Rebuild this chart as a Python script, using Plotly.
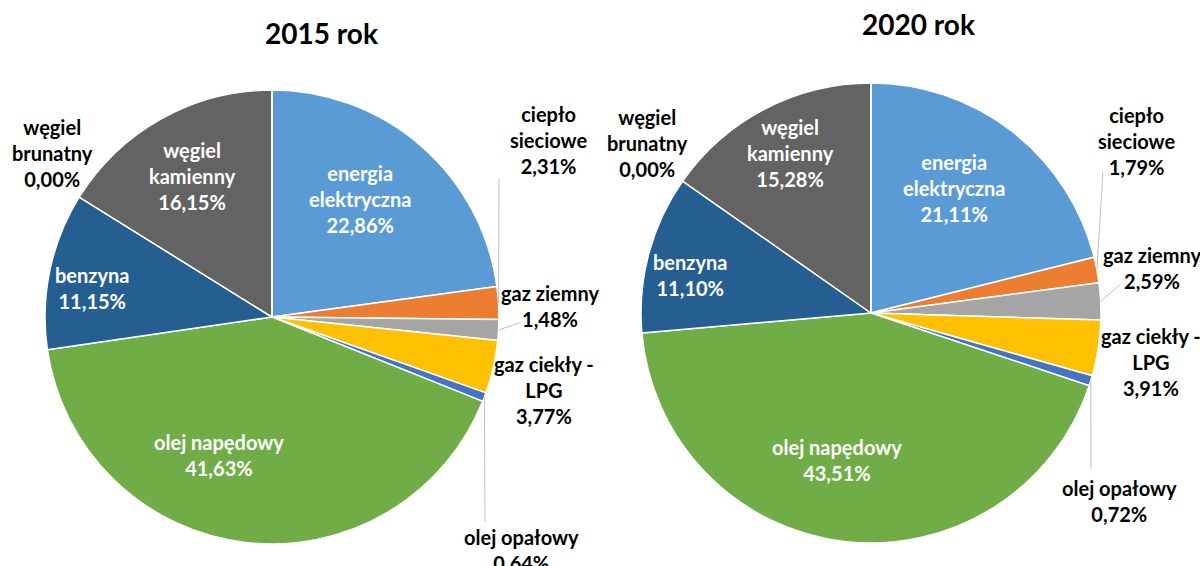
import math

import plotly.graph_objects as go

categories = [
    "energia elektryczna",
    "ciepło sieciowe",
    "gaz ziemny",
    "gaz ciekły - LPG",
    "olej opałowy",
    "olej napędowy",
    "benzyna",
    "węgiel kamienny",
    "węgiel brunatny",
]
share_2015 = [22.86, 2.31, 1.48, 3.77, 0.64, 41.63, 11.15, 16.15, 0.00]
share_2020 = [21.11, 1.79, 2.59, 3.91, 0.72, 43.51, 11.10, 15.28, 0.00]
titles = ["2015 rok", "2020 rok"]

# how each category name is wrapped on the chart
wrapped = {
    "energia elektryczna": "energia<br>elektryczna",
    "ciepło sieciowe": "ciepło<br>sieciowe",
    "gaz ciekły - LPG": "gaz ciekły -<br>LPG",
    "węgiel kamienny": "węgiel<br>kamienny",
    "węgiel brunatny": "węgiel<br>brunatny",
}

colors = ["#5B9BD5", "#ED7D31", "#A5A5A5", "#FFC000", "#4472C4",
          "#70AD47", "#255E91", "#636363", "#997300"]
inside = {"energia elektryczna", "olej napędowy", "benzyna", "węgiel kamienny"}

W, H = 1200, 566
FONT = "Lato, 'Open Sans', sans-serif"
LABEL_SIZE = 20
LINE_COLOR = "#BFBFBF"

# pie placement in pixels: centre x, centre y, radius
pies = [(272, 317, 227), (871, 313, 230)]

# label centres (px) and, for outside labels, the end of the leader line (px)
label_pos = [
    {
        "energia elektryczna": ((360, 199), None),
        "węgiel kamienny": ((192, 176), None),
        "benzyna": ((92, 288), None),
        "olej napędowy": ((219, 455), None),
        "węgiel brunatny": ((52, 153), None),
        "ciepło sieciowe": ((548, 140), (499, 177)),
        "gaz ziemny": ((550, 306), (522, 322)),
        "gaz ciekły - LPG": ((544, 390), None),
        "olej opałowy": ((521, 550), (485, 523)),
    },
    {
        "energia elektryczna": ((954, 188), None),
        "węgiel kamienny": ((790, 153), None),
        "benzyna": ((690, 275), None),
        "olej napędowy": ((837, 460), None),
        "węgiel brunatny": ((647, 143), None),
        "ciepło sieciowe": ((1136, 141), (1103, 170)),
        "gaz ziemny": ((1152, 268), (1122, 283)),
        "gaz ciekły - LPG": ((1151, 362), None),
        "olej opałowy": ((1119, 501), (1091, 470)),
    },
]


def fmt(v):
    return f"{v:.2f}".replace(".", ",") + "%"


fig = go.Figure()

for values, (cx, cy, r), labels in zip([share_2015, share_2020], pies, label_pos):
    fig.add_trace(
        go.Pie(
            labels=categories,
            values=values,
            textinfo="none",
            sort=False,
            direction="clockwise",
            rotation=0,
            domain=dict(
                x=[(cx - r) / W, (cx + r) / W],
                y=[1 - (cy + r) / H, 1 - (cy - r) / H],
            ),
            marker=dict(colors=colors, line=dict(color="white", width=1.5)),
            showlegend=False,
            hoverinfo="label+value",
        )
    )

    total = sum(values)
    cum = 0.0
    for c, v in zip(categories, values):
        mid = (cum + v / 2) / total
        cum += v
        (lx, ly), lead = labels[c]
        if lead is not None:
            ang = 2 * math.pi * mid
            px = cx + r * math.sin(ang)
            py = cy - r * math.cos(ang)
            fig.add_annotation(
                x=px / W, y=1 - py / H, xref="paper", yref="paper",
                ax=lead[0] - px, ay=lead[1] - py, text="",
                showarrow=True, arrowhead=0, arrowwidth=1,
                arrowcolor=LINE_COLOR, standoff=0, startstandoff=0,
            )
        fig.add_annotation(
            x=lx / W, y=1 - ly / H, xref="paper", yref="paper",
            xanchor="center", yanchor="middle",
            text=f"<b>{wrapped.get(c, c)}<br>{fmt(v)}</b>",
            showarrow=False,
            font=dict(family=FONT, size=LABEL_SIZE,
                      color="white" if c in inside else "black"),
        )

for t, (x, y) in zip(titles, [(321, 33), (918, 24)]):
    fig.add_annotation(
        text=f"<b>{t}</b>", x=x / W, y=1 - y / H,
        xref="paper", yref="paper", showarrow=False,
        xanchor="center", yanchor="middle",
        font=dict(family=FONT, size=28, color="black"),
    )

fig.update_layout(
    width=W,
    height=H,
    margin=dict(l=0, r=0, t=0, b=0),
    paper_bgcolor="white",
    plot_bgcolor="white",
)

fig.write_html(
    "out.html",
    config={"displayModeBar": False},
    post_script="document.body.style.margin = '0px';",
)
